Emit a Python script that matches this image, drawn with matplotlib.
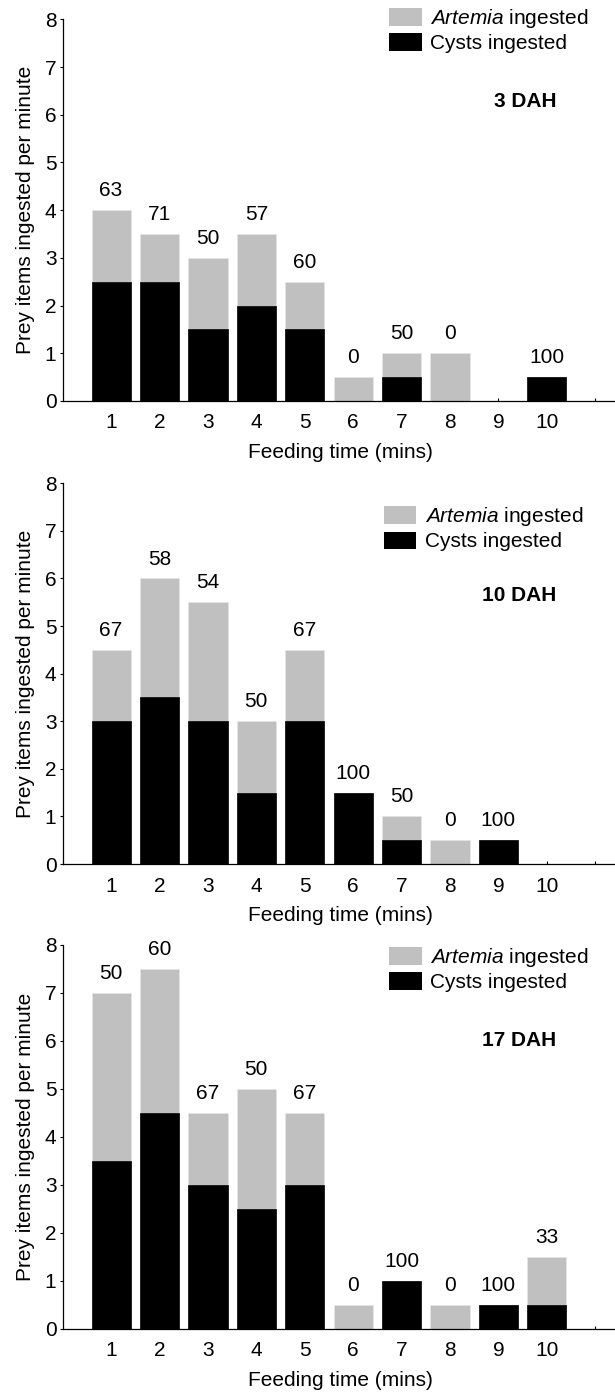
import matplotlib
matplotlib.use("Agg")
import matplotlib.pyplot as plt
from matplotlib.patches import Patch

plt.rcParams["font.family"] = ["Liberation Sans", "DejaVu Sans"]
plt.rcParams["mathtext.fontset"] = "custom"
plt.rcParams["mathtext.it"] = "Liberation Sans:italic"
plt.rcParams["mathtext.rm"] = "Liberation Sans"

# Feeding time (minutes) on the x axis
minutes = list(range(1, 11))
tick_labels = ["1", "2", "3", "4", "5", "6", "7", "8", "9", "10", ""]
stage_names = ["3 DAH", "10 DAH", "17 DAH"]

# Prey items ingested per minute: cysts and Artemia nauplii
cysts_3dah = [2.5, 2.5, 1.5, 2.0, 1.5, 0.0, 0.5, 0.0, 0.0, 0.5]
artemia_3dah = [1.5, 1.0, 1.5, 1.5, 1.0, 0.5, 0.5, 1.0, 0.0, 0.0]
cyst_pct_3dah = ["63", "71", "50", "57", "60", "0", "50", "0", "", "100"]

cysts_10dah = [3.0, 3.5, 3.0, 1.5, 3.0, 1.5, 0.5, 0.0, 0.5, 0.0]
artemia_10dah = [1.5, 2.5, 2.5, 1.5, 1.5, 0.0, 0.5, 0.5, 0.0, 0.0]
cyst_pct_10dah = ["67", "58", "54", "50", "67", "100", "50", "0", "100", ""]

cysts_17dah = [3.5, 4.5, 3.0, 2.5, 3.0, 0.0, 1.0, 0.0, 0.5, 0.5]
artemia_17dah = [3.5, 3.0, 1.5, 2.5, 1.5, 0.5, 0.0, 0.5, 0.0, 1.0]
cyst_pct_17dah = ["50", "60", "67", "50", "67", "0", "100", "0", "100", "33"]

panels = [
    (cysts_3dah, artemia_3dah, cyst_pct_3dah),
    (cysts_10dah, artemia_10dah, cyst_pct_10dah),
    (cysts_17dah, artemia_17dah, cyst_pct_17dah),
]

GREY = "#c0c0c0"
FS = 15

fig = plt.figure(figsize=(6.15, 13.93), dpi=100)
W, H = 615.0, 1393.0
left_px = 62.7
# (top, bottom) of each plotting area in pixels
boxes = [(19.3, 401.0), (483.3, 864.0), (945.0, 1329.0)]
legend_anchor = [(0.591, 1.032), (0.581, 0.942), (0.591, 0.997)]
stage_y = [6.28, 5.64, 6.01]

for (cysts, artemia, pct), (top, bot), leg_xy, sname, sy in zip(
        panels, boxes, legend_anchor, stage_names, stage_y):
    ax = fig.add_axes([left_px / W, (H - bot) / H, 1 - left_px / W, (bot - top) / H])

    totals = [c + a for c, a in zip(cysts, artemia)]
    ax.bar(minutes, artemia, width=0.81, bottom=cysts, color=GREY,
           edgecolor="#e4e4e4", linewidth=0.6, zorder=2)
    ax.bar(minutes, cysts, width=0.81, color="black", edgecolor="black",
           linewidth=0.5, zorder=3)

    for m, t, p in zip(minutes, totals, pct):
        if p:
            ax.annotate(p, (m, t), xytext=(0, 14), textcoords="offset points",
                        ha="center", va="center", fontsize=FS)

    ax.set_xlim(0, 11.41)
    ax.set_ylim(0, 8)
    ax.set_yticks(range(0, 9))
    ax.set_xticks(range(1, 12))
    ax.set_xticklabels(tick_labels)
    ax.tick_params(axis="y", direction="out", length=2.5, width=0.8, pad=2, labelsize=FS)
    ax.tick_params(axis="x", direction="in", length=2.5, width=0.8, pad=9, labelsize=FS)
    for side in ("top", "right"):
        ax.spines[side].set_visible(False)
    for side in ("left", "bottom"):
        ax.spines[side].set_linewidth(0.9)

    ax.set_ylabel("Prey items ingested per minute", fontsize=FS)
    ax.yaxis.set_label_coords(-0.051, 0.5)
    ax.set_xlabel("Feeding time (mins)", fontsize=FS)
    ax.xaxis.set_label_coords(0.503, -0.11)

    ax.text(10.2, sy, sname, ha="right", va="center", fontsize=FS, fontweight="bold")

    handles = [Patch(facecolor=GREY, edgecolor="none", label=r"$\mathit{Artemia}$ ingested"),
               Patch(facecolor="black", edgecolor="none", label="Cysts ingested")]
    ax.legend(handles=handles, loc="upper left", bbox_to_anchor=leg_xy, frameon=False,
              fontsize=FS, borderpad=0, borderaxespad=0, handlelength=1.57,
              handleheight=0.91, handletextpad=0.4, labelspacing=0.15)

fig.savefig("out.png", dpi=100)
